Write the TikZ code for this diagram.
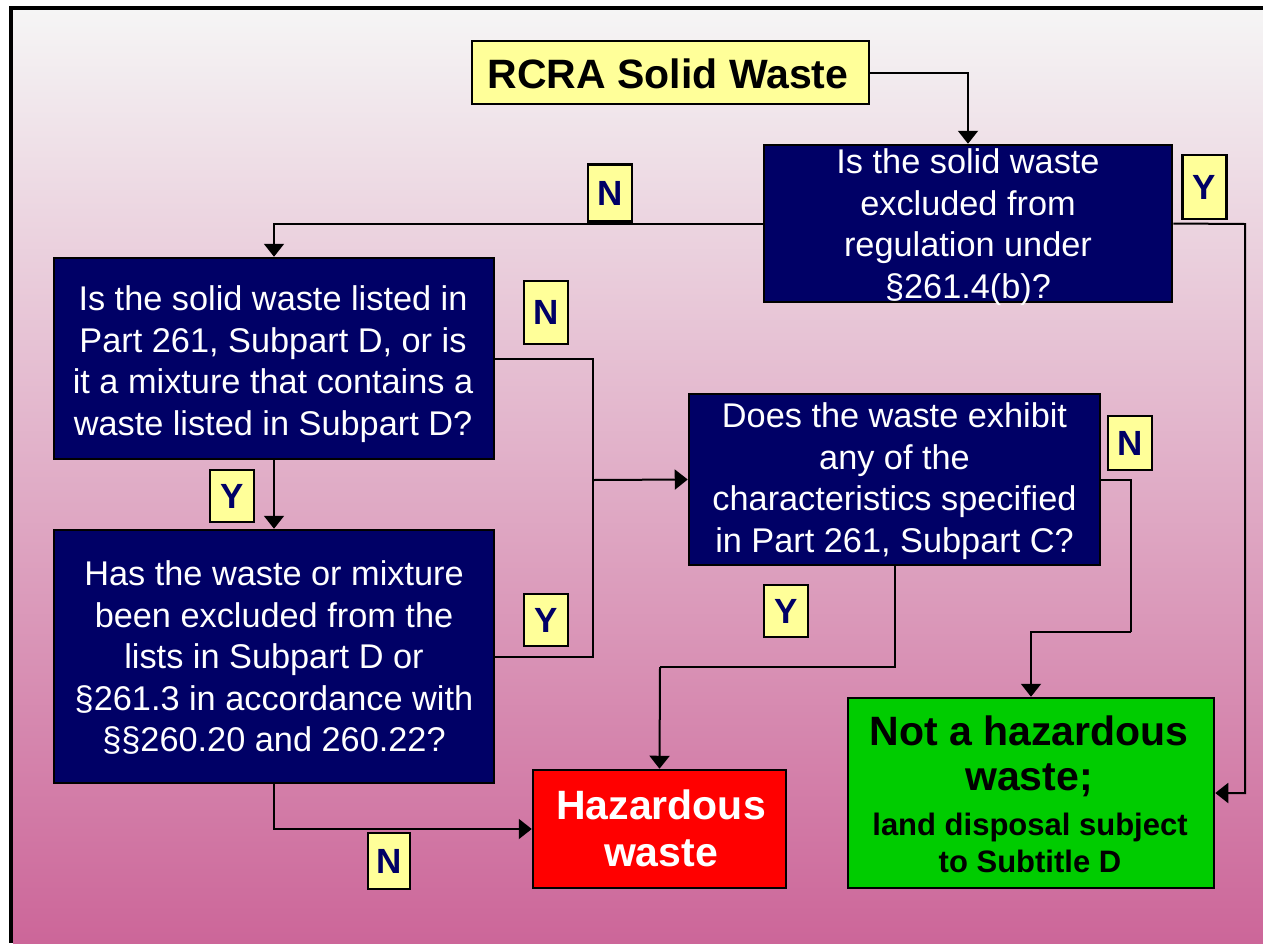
\documentclass[tikz,border=0pt]{standalone}
\usepackage{fontspec}
\setmainfont{Liberation Sans}
\usetikzlibrary{arrows.meta}
\definecolor{navy}{RGB}{0,0,102}
\definecolor{pale}{RGB}{255,255,153}
\definecolor{hazred}{RGB}{255,0,0}
\definecolor{okgreen}{RGB}{0,204,0}
\definecolor{bgtop}{RGB}{245,245,245}
\definecolor{bgbot}{RGB}{204,102,153}
\begin{document}
\begin{tikzpicture}[x=1pt,y=-1pt,
  box/.style={draw=black, line width=2.5pt, inner sep=0pt},
  qbox/.style={box, fill=navy},
  qtext/.style={anchor=north, inner sep=0pt, text=white, align=center, font=\fontsize{34.3}{41.5}\selectfont},
  lbl/.style={box, fill=pale, text=navy, font=\fontsize{35}{40}\selectfont\bfseries, minimum width=44pt},
  conn/.style={line width=2pt, draw=black},
  arr/.style={conn, -{Triangle[length=13pt,width=20pt]}}]
% background and frame
\fill[white] (0,0) rectangle (1263,943);
\shade[top color=bgtop, bottom color=bgbot] (13,10) rectangle (1263,943);
\fill[black] (9,6) rectangle (1263,10);
\fill[black] (9,6) rectangle (13,943);
\useasboundingbox (0,0) rectangle (1263,943);

% boxes
\node[box, fill=pale, minimum width=397pt, minimum height=63pt] (rcra) at (670.5,72.5) {};
\node[qbox, minimum width=408pt, minimum height=157pt] (q1) at (968,223.5) {};
\node[qbox, minimum width=440pt, minimum height=201pt] (q2) at (274,358.5) {};
\node[qbox, minimum width=440pt, minimum height=253pt] (q3) at (274,656.5) {};
\node[qbox, minimum width=411pt, minimum height=171pt] (q4) at (894.5,479.5) {};
\node[box, fill=hazred, minimum width=253pt, minimum height=118pt] (haz) at (659.5,829) {};
\node[box, fill=okgreen, minimum width=366pt, minimum height=190pt] (green) at (1031,793) {};

% texts
\node[anchor=north, inner sep=0pt, font=\fontsize{41}{48}\selectfont\bfseries] (trcra) at (668,58.7) {RCRA Solid Waste};
\node[qtext] (tq1) at (968,148.5) {Is the solid waste\\excluded from\\regulation under\\§261.4(b)?};
\node[qtext] (tq2) at (273,285.5) {Is the solid waste listed in\\Part 261, Subpart D, or is\\it a mixture that contains a\\waste listed in Subpart D?};
\node[qtext] (tq3) at (274,560.5) {Has the waste or mixture\\been excluded from the\\lists in Subpart D or\\§261.3 in accordance with\\§§260.20 and 260.22?};
\node[qtext] (tq4) at (894.5,402.5) {Does the waste exhibit\\any of the\\characteristics specified\\in Part 261, Subpart C?};
\node[anchor=north, inner sep=0pt, align=center, text=white, font=\fontsize{41}{47}\selectfont\bfseries] (thaz) at (661,789.7) {Hazardous\\waste};
\node[anchor=north, inner sep=0pt, align=center, font=\fontsize{41}{45}\selectfont\bfseries] (tg1) at (1029,715.7) {Not a hazardous\\waste;};
\node[anchor=north, inner sep=0pt, align=center, font=\fontsize{31}{37}\selectfont\bfseries] (tg2) at (1030,812.8) {land disposal subject\\to Subtitle D};

% labels
\node[lbl, minimum height=57pt] (ln1) at (610,193) {N};
\node[lbl, minimum height=64pt] (ly1) at (1204.5,187) {Y};
\node[lbl, minimum height=63pt] (ln2) at (546,312.5) {N};
\node[lbl, minimum height=52pt] (ly2) at (232,496) {Y};
\node[lbl, minimum height=52pt] (ly3) at (546,620) {Y};
\node[lbl, minimum height=54pt] (ln3) at (1130,443) {N};
\node[lbl, minimum height=52pt] (ly4) at (786,611) {Y};
\node[lbl, minimum height=56pt, minimum width=42pt] (ln4) at (389,861) {N};

% junctions
\coordinate (j) at (593,480);
\coordinate (b1) at (1131,632);
\coordinate (b2) at (660,667);
\coordinate (r1) at (1245,224);

% connectors
\draw[arr] (rcra.east) -| (q1.north);
\draw[arr] (q1.west) -| (q2.north);
\draw[arr] (q1.east) -- (r1) |- (green.east);
\draw[conn] (q2.east) -| (j);
\draw[conn] (q3.east) -| (j);
\draw[arr] (j) -- (q4.west);
\draw[arr] (q2.south) -- (q3.north);
\draw[arr] (q3.south) |- (haz.west);
\draw[conn] (q4.east) -| (b1);
\draw[arr] (b1) -| (green.north);
\draw[conn] (q4.south) |- (b2);
\draw[arr] (b2) -- (haz.north);
\end{tikzpicture}
\end{document}
